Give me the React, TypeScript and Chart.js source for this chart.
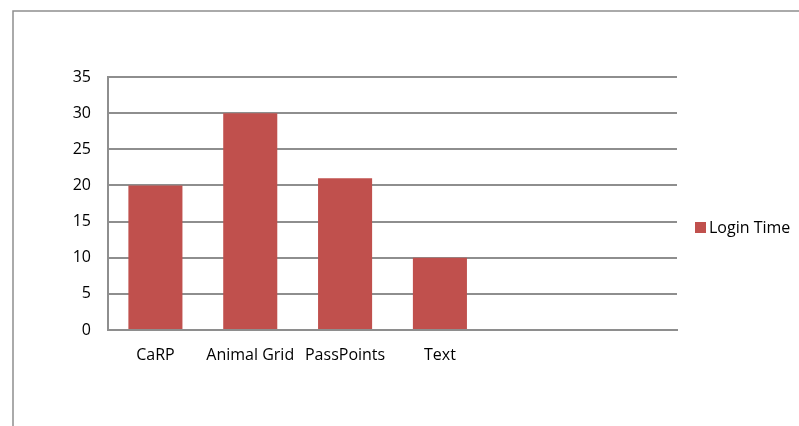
import React, { useEffect, useRef } from "react";
import { Chart, registerables } from "chart.js";

Chart.register(...registerables);

const categories = ["CaRP", "Animal Grid", "PassPoints", "Text", "", ""];
const loginTime = [20, 30, 21, 10, null, null];
const seriesLabel = "Login Time";
const yMin = 0;
const yMax = 35;
const yStep = 5;

const BAR = "#C0504D";
const GRID = "#8E8E8E";
const FONT = "'Open Sans', Lato, sans-serif";

const framePlugin = {
  id: "frame",
  beforeDraw(chart: any) {
    const ctx = chart.ctx;
    ctx.save();
    ctx.strokeStyle = GRID;
    ctx.lineWidth = 1.5;
    ctx.strokeRect(13, 11, 900, 600);
    ctx.restore();
  },
};

const legendPlugin = {
  id: "sideLegend",
  afterDraw(chart: any) {
    const ctx = chart.ctx;
    const ds = chart.data.datasets[0];
    const area = chart.chartArea;
    const x = area.right + 18;
    const y = 228;
    ctx.save();
    ctx.fillStyle = ds.backgroundColor;
    ctx.fillRect(x, y - 6, 11, 11);
    ctx.fillStyle = "#000";
    ctx.font = `16px ${FONT}`;
    ctx.textBaseline = "middle";
    ctx.textAlign = "left";
    ctx.fillText(ds.label, x + 14, y);
    ctx.restore();
  },
};

export default function App() {
  const ref = useRef<HTMLCanvasElement>(null);
  useEffect(() => {
    if (!ref.current) return;
    const chart = new Chart(ref.current, {
      type: "bar",
      data: {
        labels: categories,
        datasets: [
          {
            label: seriesLabel,
            data: loginTime,
            backgroundColor: BAR,
            borderWidth: 0,
            categoryPercentage: 1,
            barPercentage: 0.57,
          },
        ],
      },
      options: {
        animation: false,
        responsive: false,
        maintainAspectRatio: false,
        layout: { padding: { left: 0, right: 122, top: 77, bottom: 0 } },
        plugins: {
          legend: { display: false },
          tooltip: { enabled: false },
        },
        scales: {
          x: {
            grid: { display: false, drawTicks: false },
            border: { display: true, color: GRID, width: 2 },
            ticks: { color: "#000", font: { family: FONT, size: 16 }, padding: 16, maxRotation: 0, autoSkip: false },
            afterFit: (s: any) => { s.height = 96; },
          },
          y: {
            min: yMin,
            max: yMax,
            grid: { color: GRID, lineWidth: 2, drawTicks: false },
            border: { display: true, color: GRID, width: 2 },
            ticks: { stepSize: yStep, color: "#000", font: { family: FONT, size: 16 }, padding: 17 },
            afterFit: (s: any) => { s.width = 108; },
          },
        },
      },
      plugins: [framePlugin, legendPlugin],
    });
    return () => chart.destroy();
  }, []);
  return (
    <div style={{ position: "fixed", left: 0, top: 0, width: 799, height: 426, background: "#fff" }}>
      <canvas ref={ref} width={799} height={426} style={{ display: "block" }} />
    </div>
  );
}
